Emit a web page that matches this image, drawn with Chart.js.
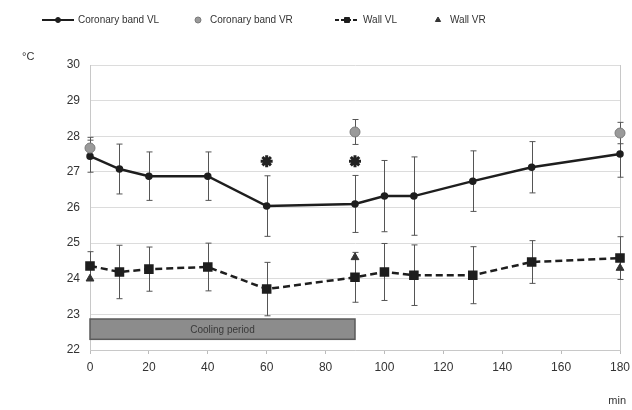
<!DOCTYPE html>
<html><head><meta charset="utf-8">
<script src="https://cdn.jsdelivr.net/npm/chart.js@4.4.1/dist/chart.umd.min.js"></script>
<style>html,body{margin:0;padding:0;background:#fff}#wrap{width:632px;height:410px;position:relative}</style>
</head><body><div id="wrap"><canvas id="c" width="632" height="410"></canvas></div>
<script>
// ---- data ----
const minutes      = [0, 10, 20, 40, 60, 90, 100, 110, 130, 150, 180];
const coronaryVL    = [27.44, 27.08, 26.88, 26.88, 26.04, 26.10, 26.32, 26.32, 26.74, 27.13, 27.50];
const coronaryVLErr = [0.45, 0.70, 0.68, 0.68, 0.85, 0.80, 1.00, 1.10, 0.85, 0.72, 0.65];
const wallVL        = [24.36, 24.19, 24.27, 24.33, 23.71, 24.04, 24.19, 24.10, 24.10, 24.47, 24.58];
const wallVLErr     = [0.40, 0.75, 0.62, 0.67, 0.75, 0.70, 0.80, 0.85, 0.80, 0.60, 0.60];
const vrMinutes     = [0, 90, 180];
const coronaryVR    = [27.67, 28.12, 28.09];
const coronaryVRErr = [0.30, 0.35, 0.30];
const wallVR        = [24.00, 24.60, 24.30];
const starMinutes   = [60, 90];
const starValues    = [27.30, 27.30];
const coolingSpan   = [0, 90];
const coolingRange  = [22.30, 22.87];
const coolingLabel  = "Cooling period";
const xTicks        = [0, 20, 40, 60, 80, 100, 120, 140, 160, 180];
const yTicks        = [22, 23, 24, 25, 26, 27, 28, 29, 30];

const pts = (xs, ys) => xs.map((x, i) => ({x, y: ys[i]}));
const FONT = '"Liberation Sans", Arial, sans-serif';

const datasets = [
  {label: 'Coronary band VL', data: pts(minutes, coronaryVL), errors: coronaryVLErr,
   borderColor: '#1e1e1e', backgroundColor: '#1e1e1e', borderWidth: 2.5,
   pointRadius: 2.5, pointStyle: 'circle', legendLine: true, order: 2},
  {label: 'Coronary band VR', data: pts(vrMinutes, coronaryVR), errors: coronaryVRErr,
   showLine: false, borderColor: '#7a7a7a', backgroundColor: '#9a9a9a', borderWidth: 1,
   pointRadius: 5, pointStyle: 'circle', order: 1},
  {label: 'Wall VL', data: pts(minutes, wallVL), errors: wallVLErr,
   borderColor: '#1e1e1e', backgroundColor: '#1e1e1e', borderWidth: 2.5, borderDash: [7, 4],
   pointRadius: 5, pointStyle: 'rect', legendLine: true, order: 2},
  {label: 'Wall VR', data: pts(vrMinutes, wallVR),
   showLine: false, borderColor: '#333', backgroundColor: '#333', borderWidth: 1,
   pointRadius: 4.5, pointStyle: 'triangle', order: 1},
  {label: 'sig', data: pts(starMinutes, starValues), showLine: false, hideLegend: true,
   borderColor: '#222', backgroundColor: '#222', borderWidth: 3,
   pointRadius: 6, pointStyle: 'star', order: 0}
].map(d => Object.assign(d, {clip: false}));

const bgPlugin = {
  id: 'bg',
  beforeDatasetsDraw(chart) {
    const {ctx, chartArea: a, scales: {x, y}} = chart;
    ctx.save();
    // right border
    ctx.strokeStyle = '#c8c8c8'; ctx.lineWidth = 1;
    ctx.beginPath(); ctx.moveTo(a.right + 0.5, a.top); ctx.lineTo(a.right + 0.5, a.bottom); ctx.stroke();
    // cooling period box
    const x0 = x.getPixelForValue(coolingSpan[0]), x1 = x.getPixelForValue(coolingSpan[1]);
    const y0 = y.getPixelForValue(coolingRange[1]), y1 = y.getPixelForValue(coolingRange[0]);
    ctx.fillStyle = '#8c8c8c'; ctx.fillRect(x0, y0, x1 - x0, y1 - y0);
    ctx.strokeStyle = '#5a5a5a'; ctx.lineWidth = 1.5; ctx.strokeRect(x0, y0, x1 - x0, y1 - y0);
    ctx.fillStyle = '#3a3a3a'; ctx.font = '10px ' + FONT; ctx.textAlign = 'center'; ctx.textBaseline = 'middle';
    ctx.fillText(coolingLabel, (x0 + x1) / 2, (y0 + y1) / 2 + 1);
    // error bars
    ctx.strokeStyle = '#555'; ctx.lineWidth = 1;
    chart.data.datasets.forEach(ds => {
      if (!ds.errors) return;
      ds.data.forEach((p, i) => {
        const e = ds.errors[i]; if (!e) return;
        const px = Math.round(x.getPixelForValue(p.x)) + 0.5;
        const yt = y.getPixelForValue(p.y + e), yb = y.getPixelForValue(p.y - e);
        ctx.beginPath();
        ctx.moveTo(px, yt); ctx.lineTo(px, yb);
        ctx.moveTo(px - 3, yt); ctx.lineTo(px + 3, yt);
        ctx.moveTo(px - 3, yb); ctx.lineTo(px + 3, yb);
        ctx.stroke();
      });
    });
    ctx.restore();
  },
  afterDraw(chart) {
    const {ctx} = chart;
    ctx.save();
    ctx.fillStyle = '#333'; ctx.font = '11px ' + FONT; ctx.textBaseline = 'middle';
    ctx.textAlign = 'left'; ctx.fillText('°C', 22, 57);
    ctx.textAlign = 'right'; ctx.fillText('min', 626, 401);
    // legend
    const items = [
      {ds: 0, x: 42, w: 32}, {ds: 1, x: 190, w: 16}, {ds: 2, x: 335, w: 24}, {ds: 3, x: 430, w: 16}
    ];
    const ly = 20;
    ctx.font = '10px ' + FONT;
    items.forEach(it => {
      const ds = chart.data.datasets[it.ds];
      if (ds.legendLine) {
        ctx.strokeStyle = ds.borderColor; ctx.lineWidth = 2;
        ctx.setLineDash(ds.borderDash ? [4, 2] : []);
        ctx.beginPath(); ctx.moveTo(it.x, ly); ctx.lineTo(it.x + it.w, ly); ctx.stroke();
        ctx.setLineDash([]);
      }
      ctx.fillStyle = ds.backgroundColor; ctx.strokeStyle = ds.borderColor; ctx.lineWidth = 1;
      Chart.helpers.drawPoint(ctx, {pointStyle: ds.pointStyle,
        radius: ds.legendLine ? (ds.pointRadius > 3 ? 3.5 : 2.5) : 3, borderWidth: 1, rotation: 0},
        it.x + it.w / 2, ly);
      ctx.fillStyle = '#333'; ctx.textAlign = 'left';
      ctx.fillText(ds.label, it.x + it.w + 4, ly);
    });
    ctx.restore();
  }
};

new Chart(document.getElementById('c'), {
  type: 'line',
  data: {datasets},
  options: {
    responsive: false, animation: false,
    layout: {padding: {left: 0, right: 12, top: 65, bottom: 30}},
    plugins: {legend: {display: false}, tooltip: {enabled: false}},
    elements: {line: {tension: 0}},
    scales: {
      x: {type: 'linear', min: 0, max: 180,
        afterFit(s) { s.height = 30; s.paddingLeft = 0; s.paddingRight = 0; },
        afterBuildTicks(s) { s.ticks = xTicks.map(v => ({value: v})); },
        grid: {drawOnChartArea: false, tickLength: 4, color: '#bbb'},
        border: {color: '#c8c8c8'},
        ticks: {color: '#333', font: {family: FONT, size: 12}, padding: 6}},
      y: {min: 22, max: 30,
        afterFit(s) { s.width = 90; },
        afterBuildTicks(s) { s.ticks = yTicks.map(v => ({value: v})); },
        grid: {color: '#dcdcdc', drawTicks: false},
        border: {color: '#c8c8c8'},
        ticks: {color: '#333', font: {family: FONT, size: 12}, padding: 10}}
    }
  },
  plugins: [bgPlugin]
});
</script></body></html>
